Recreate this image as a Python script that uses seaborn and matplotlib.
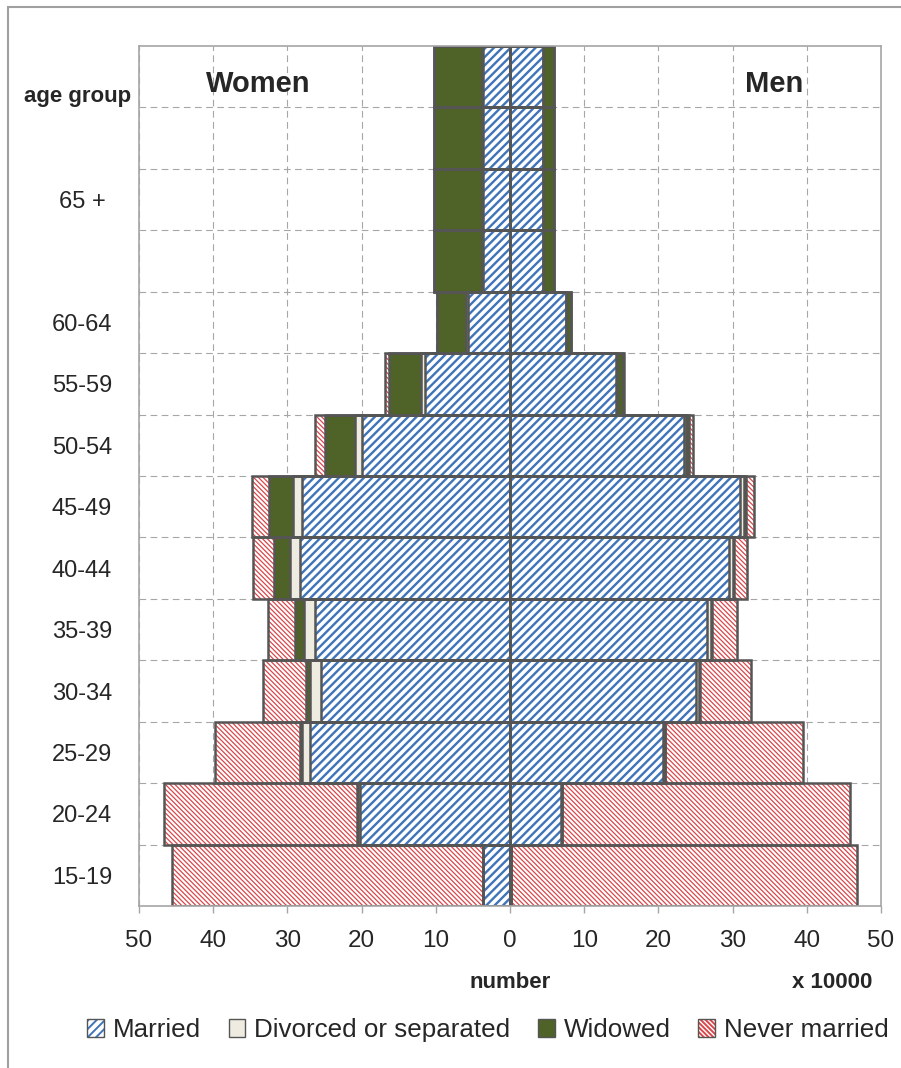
import numpy as np
import pandas as pd
import matplotlib
matplotlib.use('Agg')
import matplotlib.pyplot as plt
from matplotlib.patches import Patch, Rectangle
import seaborn as sns

# rows from bottom (15-19) to top, the 65+ group fills the top four rows
age_labels = ['15-19', '20-24', '25-29', '30-34', '35-39', '40-44', '45-49',
              '50-54', '55-59', '60-64', '', '65 +', '', '']

# values in units of 10000 people
women_married = [3.7, 20.2, 27.0, 25.5, 26.3, 28.3, 28.0, 20.0, 11.5, 5.7, 3.7, 3.7, 3.7, 3.7]
women_divorced = [0.0, 0.3, 1.0, 1.4, 1.5, 1.4, 1.2, 0.9, 0.5, 0.2, 0.1, 0.1, 0.1, 0.1]
women_widowed = [0.0, 0.1, 0.3, 0.6, 1.2, 2.1, 3.3, 4.0, 4.3, 3.9, 6.5, 6.5, 6.5, 6.5]
women_never = [41.8, 26.0, 11.4, 5.8, 3.6, 2.9, 2.3, 1.4, 0.6, 0.1, 0.0, 0.0, 0.0, 0.0]

men_married = [0.1, 6.9, 20.6, 25.0, 26.6, 29.5, 31.0, 23.4, 14.3, 7.5, 4.4, 4.4, 4.4, 4.4]
men_divorced = [0.0, 0.1, 0.3, 0.5, 0.5, 0.6, 0.6, 0.3, 0.1, 0.1, 0.1, 0.1, 0.1, 0.1]
men_widowed = [0.0, 0.0, 0.0, 0.1, 0.1, 0.1, 0.2, 0.4, 0.8, 0.6, 1.4, 1.4, 1.4, 1.4]
men_never = [46.6, 38.8, 18.6, 6.9, 3.4, 1.8, 1.1, 0.5, 0.1, 0.0, 0.0, 0.0, 0.0, 0.0]

status_names = ['Married', 'Divorced or separated', 'Widowed', 'Never married']

sns.set_theme(style='white')
plt.rcParams['font.family'] = ['Liberation Sans', 'DejaVu Sans']
plt.rcParams['hatch.linewidth'] = 1.4

blue = '#3f74b8'
red = '#d9474b'
beige = '#eeece1'
green = '#4f6228'
edge_gray = '#555555'
grid_gray = '#a6a6a6'

# face, hatch colour, hatch pattern, hatch line width
styles = [
    dict(face='white', edge=blue, hatch='////', hlw=1.7),
    dict(face=beige, edge=beige, hatch=None, hlw=1.0),
    dict(face=green, edge=green, hatch=None, hlw=1.0),
    dict(face='white', edge=red, hatch='\\\\\\\\\\\\\\', hlw=0.9),
]

rows = np.arange(len(age_labels))

fig = plt.figure(figsize=(9.01, 10.68), dpi=100)
ax = fig.add_axes([139 / 901, 1 - 906 / 1068, 742 / 901, 860 / 1068])
ax.set_axisbelow(True)


def draw_side(sign, layers):
    cum = np.cumsum(np.array(layers), axis=0)
    # widest (outer) layer first, inner layers painted over it
    for i in [3, 2, 1, 0]:
        st = styles[i]
        df = pd.DataFrame({'value': sign * cum[i], 'row': rows})
        with plt.rc_context({'hatch.linewidth': st['hlw']}):
            sns.barplot(data=df, x='value', y='row', orient='h', native_scale=True,
                        width=1.0, color=st['face'], saturation=1, edgecolor=st['edge'],
                        hatch=st['hatch'], linewidth=0, errorbar=None, ax=ax)
    for i in [3, 2, 1, 0]:
        df = pd.DataFrame({'value': sign * cum[i], 'row': rows})
        sns.barplot(data=df, x='value', y='row', orient='h', native_scale=True,
                    width=1.0, color=edge_gray, saturation=1, fill=False,
                    linewidth=1.8, errorbar=None, ax=ax)


draw_side(-1, [women_married, women_divorced, women_widowed, women_never])
draw_side(1, [men_married, men_divorced, men_widowed, men_never])

ax.set_xlim(-50, 50)
ax.set_ylim(-0.5, len(age_labels) - 0.5)
xt = np.arange(-50, 51, 10)
ax.set_xticks(xt)
ax.set_xticklabels([str(abs(v)) for v in xt], fontsize=17.5, color='#262626')
ax.set_yticks(rows)
ax.set_yticklabels(age_labels, fontsize=17, color='#262626')
for lab in ax.get_yticklabels():
    lab.set_ha('center')
ax.set_yticks(np.arange(0.5, len(age_labels) - 1, 1), minor=True)
ax.set_xlabel('')
ax.set_ylabel('')

ax.tick_params(axis='x', which='major', direction='out', length=5, width=1,
               color=grid_gray, pad=12, bottom=True)
ax.tick_params(axis='y', which='both', length=0, pad=41)

ax.grid(False)
ax.xaxis.grid(True, which='major', color=grid_gray, lw=0.8, ls=(0, (6, 4)))
ax.yaxis.grid(True, which='minor', color=grid_gray, lw=0.8, ls=(0, (6, 4)))
for s in ax.spines.values():
    s.set_visible(True)
    s.set_color(grid_gray)
    s.set_linewidth(1.2)

ax.text(-34, 12.88, 'Women', fontsize=21, fontweight='bold', ha='center', va='center')
ax.text(35.6, 12.88, 'Men', fontsize=21, fontweight='bold', ha='center', va='center')
fig.text(78 / 901, 1 - 97 / 1068, 'age group', fontsize=16, fontweight='bold',
         ha='center', va='center')
fig.text(510 / 901, 1 - 982 / 1068, 'number', fontsize=16, fontweight='bold',
         ha='center', va='center')
fig.text(832 / 901, 1 - 982 / 1068, 'x 10000', fontsize=16, fontweight='bold',
         ha='center', va='center')

# legend: hatch patch with a gray outline on top
handles = []
for st in styles:
    with plt.rc_context({'hatch.linewidth': st['hlw']}):
        fillp = Patch(facecolor=st['face'], edgecolor=st['edge'], hatch=st['hatch'], lw=0)
    outline = Patch(facecolor='none', edgecolor=edge_gray, lw=1.0)
    handles.append((fillp, outline))
fig.legend(handles, status_names, loc='center', bbox_to_anchor=(488 / 901, 1 - 1030 / 1068),
           ncol=4, frameon=False, fontsize=18.7, handlelength=0.65, handleheight=0.65,
           handletextpad=0.35, columnspacing=1.05)

# outer frame of the chart area (open at right and bottom)
fig.add_artist(Rectangle((8 / 901, -0.1), 1.2, 1.1 - 7 / 1068, transform=fig.transFigure,
                         fill=False, edgecolor='#a0a0a0', lw=1.5))

fig.savefig('out.png', dpi=100)
